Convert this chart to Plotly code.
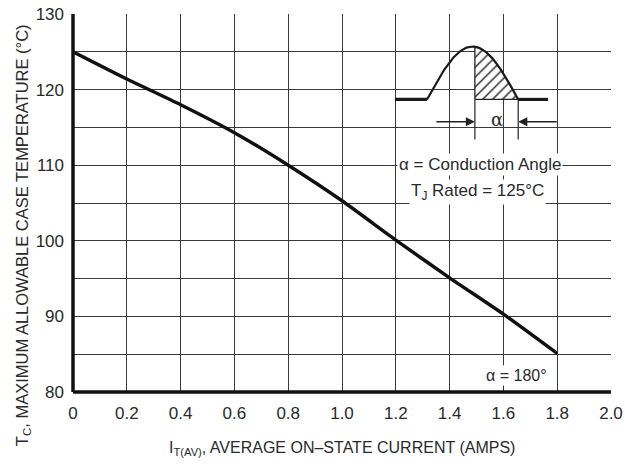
import numpy as np
import plotly.graph_objects as go

# ---- data ----
current = [0, 0.2, 0.4, 0.6, 0.8, 1.0, 1.2, 1.4, 1.6, 1.8]
temp = [125, 121.4, 118.0, 114.3, 110.0, 105.3, 100.1, 95.1, 90.3, 85.1]
x_ticks = [0, 0.2, 0.4, 0.6, 0.8, 1.0, 1.2, 1.4, 1.6, 1.8, 2.0]
x_tick_labels = ["0", "0.2", "0.4", "0.6", "0.8", "1.0", "1.2", "1.4", "1.6", "1.8", "2.0"]
y_ticks = [80, 90, 100, 110, 120, 130]

FONT = "Liberation Sans Narrow, Arial Narrow, Liberation Sans, Arial"
TXT = "#2a2a2a"
GRID = "#3a3a3a"

fig = go.Figure()

# inset waveform geometry (data coordinates)
base_y, peak_y = 118.7, 125.7
x0_flat, x_start, x_mid, x_end, x_flat_end = 1.197, 1.316, 1.494, 1.655, 1.766
t = np.linspace(0, 1, 100)
wx = x_start + (x_end - x_start) * t
wy = base_y + (peak_y - base_y) * np.sin(np.pi * t)

# hatched area (from x_mid to x_end)
mask = wx >= x_mid
hx = [x_mid] + list(wx[mask]) + [x_end, x_mid]
hy = [base_y] + list(wy[mask]) + [base_y, base_y]
fig.add_trace(go.Scatter(x=hx, y=hy, mode="lines", fill="toself",
                         fillcolor="white",
                         fillpattern=dict(shape="/", fgcolor="#222", bgcolor="white",
                                          fgopacity=1, size=7, solidity=0.2),
                         line=dict(color="#222", width=1.3), hoverinfo="skip", showlegend=False))
# waveform outline
fig.add_trace(go.Scatter(x=list(wx), y=list(wy), mode="lines",
                         line=dict(color="#1a1a1a", width=2.2),
                         hoverinfo="skip", showlegend=False))
# flat base lines (thicker)
for xa, xb in [(x0_flat, x_start), (x_end, x_flat_end)]:
    fig.add_trace(go.Scatter(x=[xa, xb], y=[base_y, base_y], mode="lines",
                             line=dict(color="#1a1a1a", width=3.2), hoverinfo="skip", showlegend=False))

# main curve
fig.add_trace(go.Scatter(x=current, y=temp, mode="lines", line_shape="spline",
                         line=dict(color="#111", width=3.4, smoothing=0.6), showlegend=False))

shapes = [
    dict(type="rect", xref="x", yref="y", x0=1.158, x1=1.84, y0=104.8, y1=126.9,
         fillcolor="white", line=dict(width=0), layer="below"),
    dict(type="line", xref="x", yref="y", x0=x_mid, x1=x_mid, y0=base_y, y1=113.4,
         line=dict(color="#222", width=1.2)),
    dict(type="line", xref="x", yref="y", x0=x_end, x1=x_end, y0=base_y, y1=113.4,
         line=dict(color="#222", width=1.2)),
]

annotations = [
    # arrows
    dict(x=x_mid, y=115.75, xref="x", yref="y", ax=-40, ay=0, text="", showarrow=True,
         arrowhead=2, arrowsize=1.4, arrowwidth=1.3, arrowcolor="#222"),
    dict(x=x_end, y=115.75, xref="x", yref="y", ax=40, ay=0, text="", showarrow=True,
         arrowhead=2, arrowsize=1.4, arrowwidth=1.3, arrowcolor="#222"),
    dict(x=(x_mid + x_end) / 2, y=116.0, xref="x", yref="y", text="α", showarrow=False,
         font=dict(family="DejaVu Serif, serif", size=18, color=TXT)),
    dict(x=1.513, y=110.1, xref="x", yref="y", text="α = Conduction Angle", showarrow=False,
         bgcolor="white", font=dict(family=FONT, size=17, color=TXT)),
    dict(x=1.502, y=106.5, xref="x", yref="y", text="T<sub>J</sub> Rated = 125°C", showarrow=False,
         bgcolor="white", font=dict(family=FONT, size=17, color=TXT)),
    dict(x=1.65, y=82.2, xref="x", yref="y", text="α = 180°", showarrow=False,
         bgcolor="white", font=dict(family=FONT, size=16, color=TXT)),
    # axis titles
    dict(x=0, y=0.415, xref="paper", yref="paper", xshift=-62, textangle=-90,
         text="T<sub>C</sub>, MAXIMUM ALLOWABLE CASE TEMPERATURE (°C)", showarrow=False,
         font=dict(family=FONT, size=16.5, color=TXT)),
    dict(x=0.5, y=0, xref="paper", yref="paper", yshift=-68,
         text="I<sub>T(AV)</sub>, AVERAGE ON–STATE CURRENT (AMPS)", showarrow=False,
         font=dict(family=FONT, size=16, color=TXT)),
]

fig.update_layout(
    width=625, height=468,
    margin=dict(l=73, r=14, t=14, b=76, autoexpand=False),
    paper_bgcolor="white", plot_bgcolor="white",
    shapes=shapes, annotations=annotations,
    xaxis=dict(range=[0, 2.0], tickvals=x_ticks, ticktext=x_tick_labels,
               showgrid=True, gridcolor=GRID, gridwidth=1,
               showline=False, zeroline=False, automargin=False,
               ticks="", ticklabelstandoff=9, tickfont=dict(family=FONT, size=17, color=TXT),
               fixedrange=True),
    yaxis=dict(range=[80, 130], tickvals=y_ticks,
               showgrid=True, gridcolor=GRID, gridwidth=1,
               minor=dict(dtick=5, showgrid=True, gridcolor=GRID, gridwidth=1),
               showline=False, zeroline=False, automargin=False,
               ticks="", ticklabelstandoff=8, tickfont=dict(family=FONT, size=17, color=TXT),
               fixedrange=True),
)
# thick left and bottom axis lines
fig.add_shape(type="line", xref="paper", yref="paper", x0=0, x1=0, y0=0, y1=1,
              line=dict(color="#111", width=3.5))
fig.add_shape(type="line", xref="paper", yref="paper", x0=0, x1=1, y0=0, y1=0,
              line=dict(color="#111", width=3.5))

fig.write_html("out.html")
